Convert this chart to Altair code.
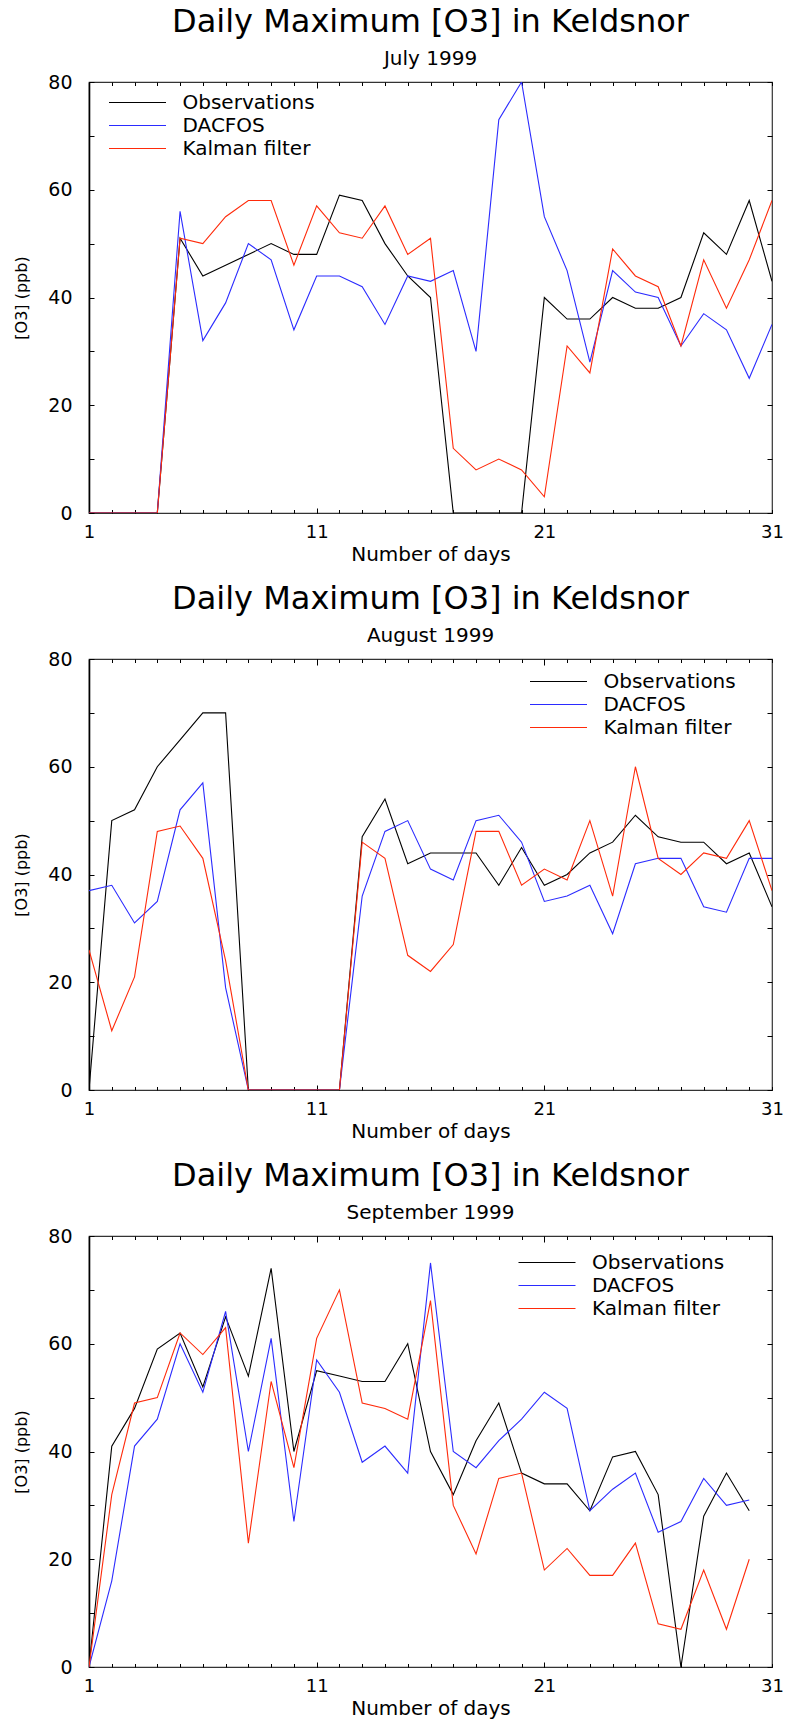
import altair as alt
import pandas as pd

FONT = "DejaVu Sans"

series_names = ["Observations", "DACFOS", "Kalman filter"]
series_colors = ["#000000", "#2b2bff", "#ff2a0a"]

days_31 = list(range(1, 32))
days_30 = list(range(1, 31))
x_label_days = [1, 11, 21, 31]
x_major_days = [11, 21]
y_label_values = [0, 20, 40, 60, 80]
y_tick_values = [0, 10, 20, 30, 40, 50, 60, 70, 80]

main_title = "Daily Maximum [O3] in Keldsnor"
month_titles = ["July 1999", "August 1999", "September 1999"]

# July 1999
jul_obs = [0, 0, 0, 0, 51, 44, 46, 48, 50, 48, 48, 59, 58, 50, 44, 40, 0, 0, 0, 0,
           40, 36, 36, 40, 38, 38, 40, 52, 48, 58, 43]
jul_dac = [0, 0, 0, 0, 56, 32, 39, 50, 47, 34, 44, 44, 42, 35, 44, 43, 45, 30, 73, 80,
           55, 45, 28, 45, 41, 40, 31, 37, 34, 25, 35]
jul_kal = [0, 0, 0, 0, 51, 50, 55, 58, 58, 46, 57, 52, 51, 57, 48, 51, 12, 8, 10, 8,
           3, 31, 26, 49, 44, 42, 31, 47, 38, 47, 58]

# August 1999
aug_obs = [0, 50, 52, 60, 65, 70, 70, 0, 0, 0, 0, 0, 47, 54, 42, 44, 44, 44, 38, 45,
           38, 40, 44, 46, 51, 47, 46, 46, 42, 44, 34]
aug_dac = [37, 38, 31, 35, 52, 57, 19, 0, 0, 0, 0, 0, 36, 48, 50, 41, 39, 50, 51, 46,
           35, 36, 38, 29, 42, 43, 43, 34, 33, 43, 43]
aug_kal = [26, 11, 21, 48, 49, 43, 24, 0, 0, 0, 0, 0, 46, 43, 25, 22, 27, 48, 48, 38,
           41, 39, 50, 36, 60, 43, 40, 44, 43, 50, 37]

# September 1999
sep_obs = [0, 41, 48, 59, 62, 52, 65, 54, 74, 40, 55, 54, 53, 53, 60, 40, 32, 42, 49, 36,
           34, 34, 29, 39, 40, 32, 0, 28, 36, 29]
sep_dac = [0, 16, 41, 46, 60, 51, 66, 40, 61, 27, 57, 51, 38, 41, 36, 75, 40, 37, 42, 46,
           51, 48, 29, 33, 36, 25, 27, 35, 30, 31]
sep_kal = [0, 32, 49, 50, 62, 58, 63, 23, 53, 37, 61, 70, 49, 48, 46, 68, 30, 21, 35, 36,
           18, 22, 17, 17, 23, 8, 7, 18, 7, 20]

PW, PH = 683, 431
LEGEND_LINE = "M-4.75,0H4.75"   # legend sample line, drawn wider than its layout box


def make_df(days, obs, dac, kal):
    rows = []
    for name, vals in zip(series_names, [obs, dac, kal]):
        for d, v in zip(days, vals):
            rows.append({"day": d, "value": v, "series": name, "order": series_names.index(name)})
    return pd.DataFrame(rows)


def xs():
    return alt.Scale(domain=[1, 31], nice=False, zero=False)


def ys():
    return alt.Scale(domain=[0, 80], nice=False, zero=False)


def tick_axis(orient, values, size, offset):
    return alt.Axis(orient=orient, values=values, offset=offset, labels=False, domain=False,
                    grid=False, ticks=True, tickSize=size, tickColor="#000000", tickWidth=1,
                    title=None)


def panel(df, subtitle, legend_x, legend_y):
    lines = alt.Chart(df).mark_line(strokeWidth=1.1, clip=True).encode(
        x=alt.X("day:Q", scale=xs(), axis=alt.Axis(
            orient="bottom", values=x_label_days, format="d", ticks=False, domain=False,
            grid=False, labelFontSize=18, labelPadding=10, labelColor="#000000",
            title="Number of days", titleFontSize=20, titleFontWeight="normal",
            titlePadding=3, titleColor="#000000", labelFlush=False)),
        y=alt.Y("value:Q", scale=ys(), axis=alt.Axis(
            orient="left", values=y_label_values, ticks=False, domain=True,
            domainColor="#000000", domainWidth=1.6, grid=False, labelFontSize=19,
            labelPadding=17, labelColor="#000000", title="[O3] (ppb)", titleFontSize=16,
            titleFontWeight="normal", titlePadding=18, titleColor="#000000")),
        color=alt.Color("series:N", scale=alt.Scale(domain=series_names, range=series_colors),
                        legend=alt.Legend(orient="none", legendX=legend_x, legendY=legend_y,
                                          title=None, symbolType=LEGEND_LINE, symbolSize=144,
                                          symbolStrokeWidth=1.2, labelFontSize=20,
                                          labelOffset=35, rowPadding=3, padding=0,
                                          labelColor="#000000")),
        order=alt.Order("order:Q"),
    )
    invisible = alt.Chart(df).mark_line(strokeOpacity=0)
    ticks_a = invisible.encode(
        x=alt.X("day:Q", scale=xs(), axis=tick_axis("top", days_31, 3.5, -PH)),
        y=alt.Y("value:Q", scale=ys(), axis=tick_axis("right", y_tick_values, 5, -PW)),
    )
    ticks_b = invisible.encode(
        x=alt.X("day:Q", scale=xs(), axis=tick_axis("bottom", days_31, 3.5, -PH)),
        y=alt.Y("value:Q", scale=ys(), axis=tick_axis("left", y_tick_values, 5, -PW)),
    )
    ticks_c = invisible.encode(
        x=alt.X("day:Q", scale=xs(), axis=tick_axis("top", x_major_days, 5, -PH)),
        y=alt.Y("value:Q", scale=ys(), axis=None),
    )
    ticks_d = invisible.encode(
        x=alt.X("day:Q", scale=xs(), axis=tick_axis("bottom", x_major_days, 6, -PH)),
        y=alt.Y("value:Q", scale=ys(), axis=None),
    )
    return alt.layer(ticks_a, ticks_b, ticks_c, ticks_d, lines).resolve_scale(
        x="independent", y="independent"
    ).properties(
        width=PW, height=PH,
        title=alt.TitleParams(text=main_title, subtitle=subtitle, fontSize=32,
                              fontWeight="normal", subtitleFontSize=20, subtitlePadding=10,
                              anchor="middle", offset=3, color="#000000",
                              subtitleColor="#000000", font=FONT, subtitleFont=FONT),
    )


p1 = panel(make_df(days_31, jul_obs, jul_dac, jul_kal), month_titles[0], 38.5, 10.5)
p2 = panel(make_df(days_31, aug_obs, aug_dac, aug_kal), month_titles[1], 459.5, 12.5)
p3 = panel(make_df(days_30, sep_obs, sep_dac, sep_kal), month_titles[2], 448, 16.5)

chart = alt.vconcat(p1, p2, p3, spacing=146, bounds="flush").resolve_scale(
    color="independent"
).resolve_legend(color="independent").properties(
    padding={"left": 13, "top": 5, "right": 0, "bottom": 0}
).configure(font=FONT).configure_view(stroke="#333333", strokeWidth=1.2)

chart.save("out.html", embed_options={"renderer": "svg", "actions": False})
